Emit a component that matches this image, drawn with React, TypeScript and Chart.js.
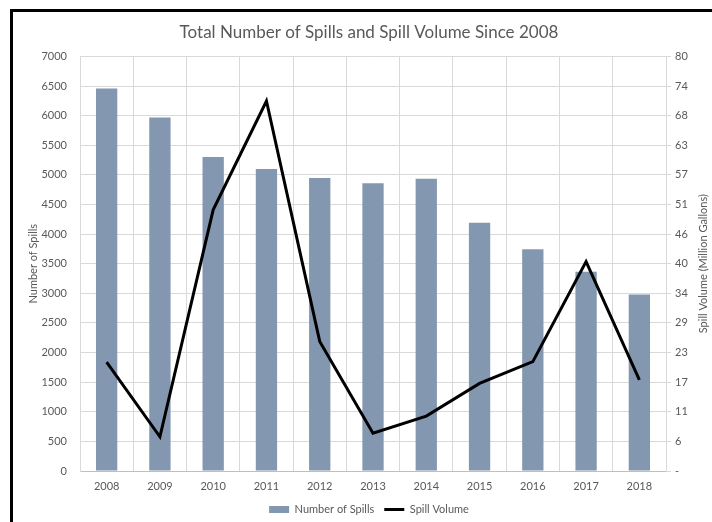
import React, { useEffect, useRef } from "react";
import { Chart, registerables } from "chart.js";

Chart.register(...registerables);

const years = ["2008", "2009", "2010", "2011", "2012", "2013", "2014", "2015", "2016", "2017", "2018"];
const spillCounts = [6460, 5970, 5300, 5100, 4945, 4860, 4935, 4190, 3745, 3365, 2980];
const spillVolumes = [21.0, 6.6, 50.4, 71.4, 25.0, 7.3, 10.6, 16.9, 21.1, 40.4, 17.6];
const volumeTickLabels = ["-", "6", "11", "17", "23", "29", "34", "40", "46", "51", "57", "63", "68", "74", "80"];
const volumeMax = 80;

const BAR_COLOR = "#8497B0";
const TEXT = "#595959";
const GRID = "#d9d9d9";
const FONT = "Lato, 'Open Sans', sans-serif";

const rightTitlePlugin = {
  id: "rightTitle",
  afterDraw(chart: any) {
    const s = chart.scales.y1;
    const ctx = chart.ctx;
    ctx.save();
    ctx.fillStyle = TEXT;
    ctx.font = `11px ${FONT}`;
    ctx.textAlign = "center";
    ctx.textBaseline = "middle";
    ctx.translate(s.left + 37, (s.top + s.bottom) / 2);
    ctx.rotate(-Math.PI / 2);
    ctx.fillText("Spill Volume (Million Gallons)", 0, 0);
    ctx.restore();
  },
};

export default function App() {
  const ref = useRef<HTMLCanvasElement>(null);
  useEffect(() => {
    if (!ref.current) return;
    const chart = new Chart(ref.current, {
      type: "bar",
      data: {
        labels: years,
        datasets: [
          {
            type: "bar",
            label: "Number of Spills",
            data: spillCounts,
            backgroundColor: BAR_COLOR,
            yAxisID: "y",
            order: 1,
            barPercentage: 0.4,
            categoryPercentage: 1,
          },
          {
            type: "line",
            label: "Spill Volume",
            data: spillVolumes,
            borderColor: "#000000",
            backgroundColor: "#000000",
            borderWidth: 3,
            pointRadius: 0,
            tension: 0,
            yAxisID: "y1",
            order: 0,
          },
        ] as any,
      },
      options: {
        animation: false,
        responsive: false,
        maintainAspectRatio: false,
        layout: { padding: 0 },
        plugins: {
          title: {
            display: true,
            text: "Total Number of Spills and Spill Volume Since 2008",
            color: TEXT,
            font: { family: FONT, size: 17, weight: "normal" },
            padding: { top: 10, bottom: 14 },
          },
          legend: {
            position: "bottom",
            labels: {
              color: TEXT,
              font: { family: FONT, size: 11 },
              usePointStyle: true,
              pointStyleWidth: 20,
              boxHeight: 7,
              padding: 10,
              generateLabels: (c: any) =>
                c.data.datasets.map((ds: any, i: number) => ({
                  text: ds.label,
                  datasetIndex: i,
                  hidden: false,
                  fillStyle: ds.type === "bar" ? BAR_COLOR : "#000000",
                  strokeStyle: ds.type === "bar" ? BAR_COLOR : "#000000",
                  lineWidth: ds.type === "bar" ? 0 : 3,
                  pointStyle: ds.type === "bar" ? "rect" : "line",
                  fontColor: TEXT,
                })),
            },
          },
          tooltip: { enabled: false },
        },
        scales: {
          x: {
            grid: { color: GRID, drawTicks: false, offset: true },
            border: { color: "#bfbfbf" },
            ticks: { color: TEXT, font: { family: FONT, size: 11 }, padding: 9 },
            afterFit: (s: any) => {
              s.height = 23;
            },
          },
          y: {
            position: "left",
            min: 0,
            max: 7000,
            ticks: {
              stepSize: 500,
              color: TEXT,
              font: { family: FONT, size: 11 },
              padding: 13,
              callback: (v: any) => String(v),
            },
            grid: { color: GRID, drawTicks: false },
            border: { color: GRID },
            title: {
              display: true,
              text: "Number of Spills",
              color: TEXT,
              font: { family: FONT, size: 11 },
              padding: { top: 14, bottom: 0 },
            },
            afterFit: (s: any) => {
              s.width = 67;
            },
          },
          y1: {
            position: "right",
            min: 0,
            max: volumeMax,
            grid: { drawOnChartArea: false, color: GRID, tickLength: 5 },
            border: { color: GRID },
            ticks: {
              color: TEXT,
              font: { family: FONT, size: 11 },
              padding: 4,
              callback: (_v: any, i: number) => volumeTickLabels[i],
            },
            afterBuildTicks: (s: any) => {
              s.ticks = volumeTickLabels.map((_, i) => ({
                value: (i * volumeMax) / (volumeTickLabels.length - 1),
              }));
            },
            afterFit: (s: any) => {
              s.width = 59;
            },
          },
        },
      } as any,
      plugins: [rightTitlePlugin],
    });
    return () => chart.destroy();
  }, []);

  return (
    <div
      style={{
        position: "fixed",
        left: 10,
        top: 9,
        width: 715,
        height: 513,
        borderLeft: "3px solid #000",
        borderTop: "3px solid #000",
        background: "#fff",
      }}
    >
      <canvas ref={ref} width={712} height={513} style={{ display: "block", width: 712, height: 513 }} />
    </div>
  );
}
